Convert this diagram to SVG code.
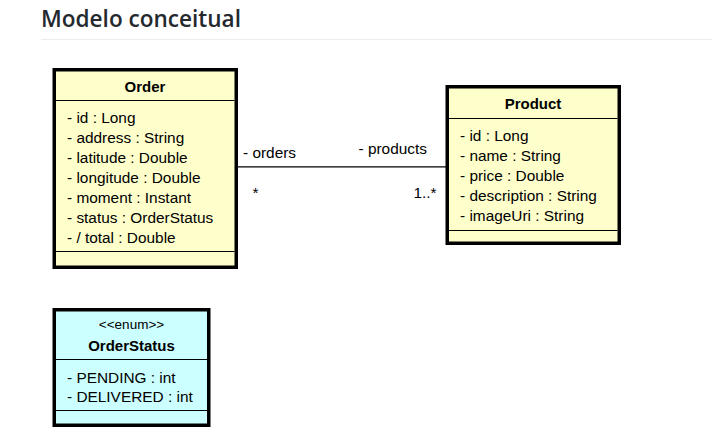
<svg xmlns="http://www.w3.org/2000/svg" width="712" height="437" viewBox="0 0 712 437">
<style>
.title{font-family:"Open Sans","Noto Sans",sans-serif;font-weight:600;font-size:23.5px;fill:#24292e}
.box{stroke:#000;stroke-width:3.5}
.yellow{fill:#FFFFCC}
.cyan{fill:#CCFFFF}
.sep{stroke:#000;stroke-width:1}
.name{font-family:"Liberation Sans",Arial,sans-serif;font-weight:bold;font-size:15px;fill:#000;text-anchor:middle}
.stereo{font-family:"Liberation Sans",Arial,sans-serif;font-size:13.5px;fill:#000;text-anchor:middle}
.attr{font-family:"Liberation Sans",Arial,sans-serif;font-size:15.4px;fill:#000}
.conn{stroke:#000;stroke-width:1.2;fill:none}
</style>
<rect width="712" height="437" fill="#fff"/>
<text class="title" x="41" y="27" textLength="200" lengthAdjust="spacingAndGlyphs">Modelo conceitual</text>
<line x1="41" y1="39.5" x2="712" y2="39.5" stroke="#eaecef" stroke-width="1"/>

<g id="connectors">
<line class="conn" x1="237" y1="166.8" x2="446" y2="166.8"/>
<text class="attr" x="243" y="158">- orders</text>
<text class="attr" x="358.5" y="154">- products</text>
<text class="attr" x="252.5" y="198">*</text>
<text class="attr" x="413.5" y="198">1..*</text>
</g>

<g id="Order">
<rect class="box yellow" x="54.25" y="69.75" width="182" height="197.5"/>
<line class="sep" x1="56" y1="100.5" x2="234.5" y2="100.5"/>
<line class="sep" x1="56" y1="251.5" x2="234.5" y2="251.5"/>
<text class="name" x="145" y="92">Order</text>
<text class="attr" x="67" y="123">- id : Long</text>
<text class="attr" x="67" y="143">- address : String</text>
<text class="attr" x="67" y="163">- latitude : Double</text>
<text class="attr" x="67" y="183">- longitude : Double</text>
<text class="attr" x="67" y="203">- moment : Instant</text>
<text class="attr" x="67" y="223">- status : OrderStatus</text>
<text class="attr" x="67" y="243">- / total : Double</text>
</g>

<g id="Product">
<rect class="box yellow" x="447.25" y="86.75" width="172" height="156.5"/>
<line class="sep" x1="449" y1="118.5" x2="617.5" y2="118.5"/>
<line class="sep" x1="449" y1="230.5" x2="617.5" y2="230.5"/>
<text class="name" x="533" y="109">Product</text>
<text class="attr" x="460" y="141">- id : Long</text>
<text class="attr" x="460" y="161">- name : String</text>
<text class="attr" x="460" y="181">- price : Double</text>
<text class="attr" x="460" y="201">- description : String</text>
<text class="attr" x="460" y="221">- imageUri : String</text>
</g>

<g id="OrderStatus">
<rect class="box cyan" x="54.25" y="309.75" width="154.5" height="115.5"/>
<line class="sep" x1="56" y1="359.5" x2="207" y2="359.5"/>
<line class="sep" x1="56" y1="410.5" x2="207" y2="410.5"/>
<text class="stereo" x="131.5" y="329">&lt;&lt;enum&gt;&gt;</text>
<text class="name" x="131.5" y="351">OrderStatus</text>
<text class="attr" x="67" y="383">- PENDING : int</text>
<text class="attr" x="67" y="402">- DELIVERED : int</text>
</g>
</svg>
